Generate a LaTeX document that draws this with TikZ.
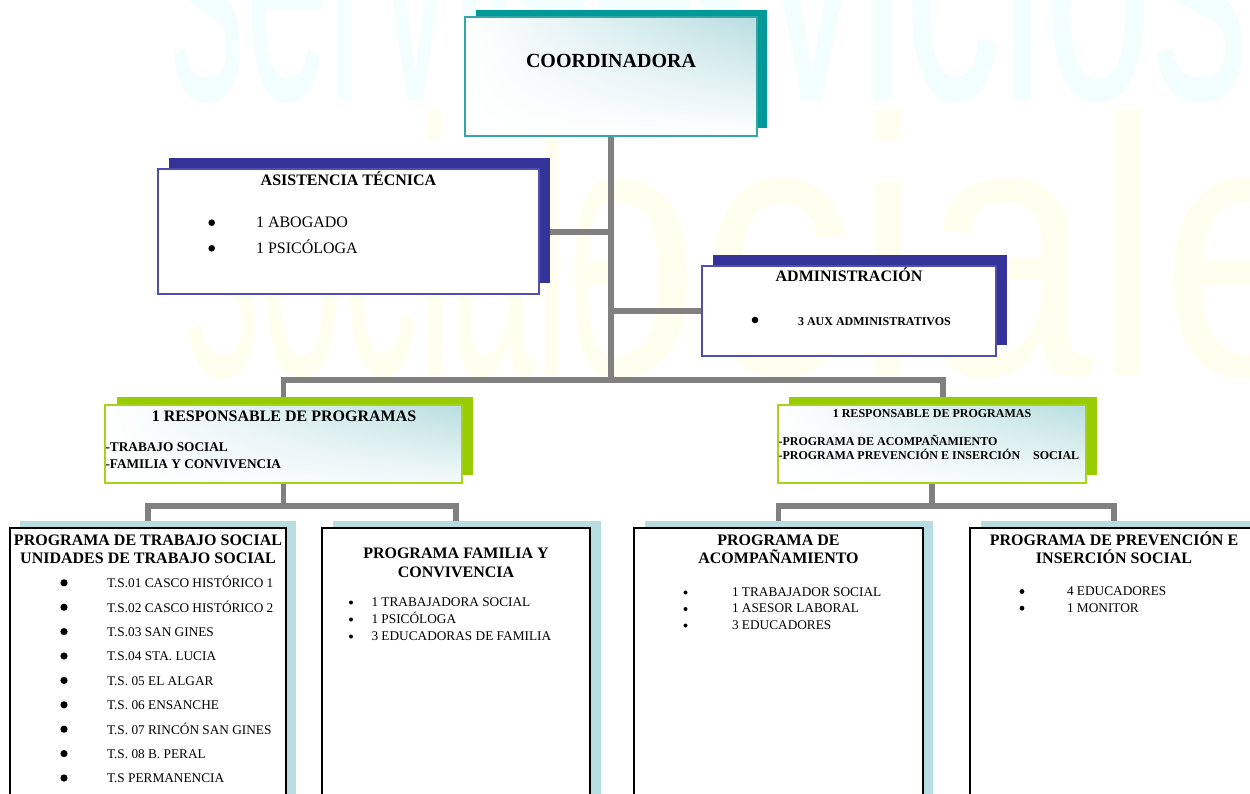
\documentclass[tikz,border=0pt]{standalone}
\usepackage{fontspec}
\setmainfont{Liberation Serif}
\newfontfamily\wmfont{Liberation Sans}
\usetikzlibrary{shadings}

\definecolor{connGray}{HTML}{808080}
\definecolor{tealShadow}{HTML}{009999}
\definecolor{tealEdge}{HTML}{33A6A6}
\definecolor{tealHi}{HTML}{B8DEE0}
\definecolor{navyShadow}{HTML}{333399}
\definecolor{navyEdge}{HTML}{5050AA}
\definecolor{limeShadow}{HTML}{99CC00}
\definecolor{limeEdge}{HTML}{A6D21A}
\definecolor{paleBlue}{HTML}{B7DDE0}
\definecolor{wmCyan}{HTML}{F3FEFE}
\definecolor{wmYellow}{HTML}{FFFFF0}

\pgfdeclarelayer{backdrop}
\pgfdeclarelayer{lines}
\pgfsetlayers{backdrop,lines,main}

\begin{document}
\begin{tikzpicture}[x=1pt,y=-1pt,
  conn/.style={draw=connGray, line width=5.5pt},
  boxbase/.style={rectangle, inner sep=0pt, outer sep=0pt, anchor=north west},
  shadowbox/.style={boxbase, fill=#1},
  tealfront/.style={boxbase, draw=tealEdge, line width=2pt, shade,
    upper left=white, lower left=white, lower right=white, upper right=tealHi},
  navyfront/.style={boxbase, draw=navyEdge, line width=2pt, fill=white},
  limefront/.style={boxbase, draw=limeEdge, line width=2.5pt, shade,
    upper left=white, lower left=white, lower right=white!85!tealHi, upper right=tealHi},
  progfront/.style={boxbase, draw=black, line width=2.5pt, fill=white},
  txt/.style={inner sep=0pt, outer sep=0pt},
  wm/.style={inner sep=0pt, outer sep=0pt, anchor=base west, font=\wmfont\fontsize{366}{366}\selectfont},
  dot/.style={fill=black}
]
\useasboundingbox (0,0) rectangle (1250,794);

% faint background lettering
\begin{pgfonlayer}{backdrop}
  \fill[white] (0,0) rectangle (1250,794);
  \begin{scope}
    \clip (0,0) rectangle (1250,794);
    \node[wm, text=wmCyan] (wm1) at (170,100) {\scalebox{0.41}[1]{servicios}};
    \node[wm, text=wmCyan] (wm2) at (495,100) {\scalebox{0.53}[1]{servicios}};
  \end{scope}
  \begin{scope}
    \clip (0,0) rectangle (611,794);
    \node[wm, text=wmYellow] (wm3) at (185,375) {\scalebox{0.41}[1]{sociales}};
  \end{scope}
  \begin{scope}
    \clip (611,0) rectangle (1250,794);
    \node[wm, text=wmYellow] (wm4) at (376,375) {\scalebox{0.84}[1]{sociales}};
  \end{scope}
\end{pgfonlayer}

% shadows
\node[shadowbox=tealShadow, minimum width=291pt, minimum height=118pt] (coord-sh) at (476,10) {};
\node[shadowbox=navyShadow, minimum width=381pt, minimum height=125pt] (asist-sh) at (169,158) {};
\node[shadowbox=navyShadow, minimum width=294pt, minimum height=90pt] (admin-sh) at (713,255) {};
\node[shadowbox=limeShadow, minimum width=356pt, minimum height=78pt] (respL-sh) at (117,397) {};
\node[shadowbox=limeShadow, minimum width=308pt, minimum height=78pt] (respR-sh) at (789,397) {};
\node[shadowbox=paleBlue, minimum width=276pt, minimum height=300pt] (b1-sh) at (20,521) {};
\node[shadowbox=paleBlue, minimum width=268pt, minimum height=300pt] (b2-sh) at (333,521) {};
\node[shadowbox=paleBlue, minimum width=288pt, minimum height=300pt] (b3-sh) at (645,521) {};
\node[shadowbox=paleBlue, minimum width=290pt, minimum height=300pt] (b4-sh) at (981,521) {};

% front boxes
\node[tealfront, minimum width=292pt, minimum height=119pt] (coord) at (465,17) {};
\node[navyfront, minimum width=381pt, minimum height=125pt] (asist) at (158,169) {};
\node[navyfront, minimum width=294pt, minimum height=90pt] (admin) at (702,266) {};
\node[limefront, minimum width=357pt, minimum height=78pt] (respL) at (105,405) {};
\node[limefront, minimum width=308pt, minimum height=78pt] (respR) at (778,405) {};
\node[progfront, minimum width=276pt, minimum height=300pt] (b1) at (10,528) {};
\node[progfront, minimum width=268pt, minimum height=300pt] (b2) at (322,528) {};
\node[progfront, minimum width=289pt, minimum height=300pt] (b3) at (634,528) {};
\node[progfront, minimum width=288pt, minimum height=300pt] (b4) at (970,528) {};

% grey tree lines, kept beneath the boxes
\coordinate (hub) at (611,380);
\coordinate (asJ) at (611,232);
\coordinate (adJ) at (611,311);
\coordinate (hubL) at (283.5,506);
\coordinate (hubR) at (932,506);
\begin{pgfonlayer}{lines}
  \draw[conn] (coord.south) -- (hub);
  \draw[conn] (respL.north) |- (hub) -| (respR-sh.north);
  \draw[conn] (asJ) -- (asJ -| asist-sh.east);
  \draw[conn] (adJ) -- (adJ -| admin.west);
  \draw[conn] (respL.south) -- (hubL);
  \draw[conn] (b1.north) |- (hubL) -| (b2.north);
  \draw[conn] (respR.south) -- (hubR);
  \draw[conn] (b3.north) |- (hubR) -| (b4.north);
\end{pgfonlayer}

% texts
\node[txt, anchor=base] (t-coord) at (611,68) {\fontsize{20}{24}\selectfont\bfseries COORDINADORA};

\node[txt, anchor=base] (t-asist) at (348.5,186) {\fontsize{16}{19}\selectfont\bfseries ASISTENCIA TÉCNICA};
\node[txt, anchor=base west] (t-asist1) at (256,228) {\fontsize{16}{19}\selectfont 1 ABOGADO};
\node[txt, anchor=base west] (t-asist2) at (256,253.6) {\fontsize{16}{19}\selectfont 1 PSICÓLOGA};

\node[txt, anchor=base] (t-admin) at (849,282) {\fontsize{16}{19}\selectfont\bfseries ADMINISTRACIÓN};
\node[txt, anchor=base west] (t-admin1) at (798,326) {\fontsize{12}{14}\selectfont\bfseries 3 AUX ADMINISTRATIVOS};

\node[txt, anchor=base] (t-respL) at (284,421.3) {\fontsize{16}{19}\selectfont\bfseries 1 RESPONSABLE DE PROGRAMAS};
\node[txt, anchor=base west] (t-respL1) at (105.5,451.7) {\fontsize{13.3}{16}\selectfont\bfseries -TRABAJO SOCIAL};
\node[txt, anchor=base west] (t-respL2) at (105.5,468.4) {\fontsize{13.3}{16}\selectfont\bfseries -FAMILIA Y CONVIVENCIA};

\node[txt, anchor=base] (t-respR) at (932,417) {\fontsize{12}{14}\selectfont\bfseries 1 RESPONSABLE DE PROGRAMAS};
\node[txt, anchor=base west] (t-respR1) at (778.5,445) {\fontsize{12}{14}\selectfont\bfseries -PROGRAMA DE ACOMPAÑAMIENTO};
\node[txt, anchor=base west] (t-respR2) at (778.5,459) {\fontsize{12}{14}\selectfont\bfseries -PROGRAMA PREVENCIÓN E INSERCIÓN\hspace{10pt} SOCIAL};

% program boxes
\node[txt, anchor=base] (t-b1a) at (148,545.3) {\fontsize{16}{19}\selectfont\bfseries PROGRAMA DE TRABAJO SOCIAL};
\node[txt, anchor=base] (t-b1b) at (148,563) {\fontsize{16}{19}\selectfont\bfseries UNIDADES DE TRABAJO SOCIAL};
\foreach \lbl [count=\i from 0] in {T.S.01 CASCO HISTÓRICO 1, T.S.02 CASCO HISTÓRICO 2, T.S.03 SAN GINES, T.S.04 STA. LUCIA, T.S. 05 EL ALGAR, T.S. 06 ENSANCHE, T.S. 07 RINCÓN SAN GINES, T.S. 08 B. PERAL, T.S PERMANENCIA}{
  \node[txt, anchor=base west] (t-b1-\i) at (107,587.7+24.4*\i) {\fontsize{13.3}{16}\selectfont \lbl};
  \fill[dot] (64,582.8+24.4*\i) circle[radius=3.6pt];
}

\node[txt, anchor=base] (t-b2a) at (456,558.3) {\fontsize{16}{19}\selectfont\bfseries PROGRAMA FAMILIA Y};
\node[txt, anchor=base] (t-b2b) at (456,577.3) {\fontsize{16}{19}\selectfont\bfseries CONVIVENCIA};
\foreach \lbl [count=\i from 0] in {1 TRABAJADORA SOCIAL, 1 PSICÓLOGA, 3 EDUCADORAS DE FAMILIA}{
  \node[txt, anchor=base west] (t-b2-\i) at (371.5,606.4+17*\i) {\fontsize{13.3}{16}\selectfont \lbl};
  \fill[dot] (351,602.5+17*\i) circle[radius=2pt];
}

\node[txt, anchor=base] (t-b3a) at (778.5,545.3) {\fontsize{16}{19}\selectfont\bfseries PROGRAMA DE};
\node[txt, anchor=base] (t-b3b) at (778.5,563) {\fontsize{16}{19}\selectfont\bfseries ACOMPAÑAMIENTO};
\foreach \lbl [count=\i from 0] in {1 TRABAJADOR SOCIAL, 1 ASESOR LABORAL, 3 EDUCADORES}{
  \node[txt, anchor=base west] (t-b3-\i) at (732,596.4+16.5*\i) {\fontsize{13.3}{16}\selectfont \lbl};
  \fill[dot] (685.5,592.5+16.5*\i) circle[radius=2pt];
}

\node[txt, anchor=base] (t-b4a) at (1114,545.3) {\fontsize{16}{19}\selectfont\bfseries PROGRAMA DE PREVENCIÓN E};
\node[txt, anchor=base] (t-b4b) at (1114,563) {\fontsize{16}{19}\selectfont\bfseries INSERCIÓN SOCIAL};
\foreach \lbl [count=\i from 0] in {4 EDUCADORES, 1 MONITOR}{
  \node[txt, anchor=base west] (t-b4-\i) at (1067,595.4+16.7*\i) {\fontsize{13.3}{16}\selectfont \lbl};
  \fill[dot] (1022,591.5+16.7*\i) circle[radius=2.4pt];
}

% bullets of the upper boxes
\fill[dot] (211.7,222.7) circle[radius=3.3pt];
\fill[dot] (211.7,248.3) circle[radius=3.3pt];
\fill[dot] (755,320) circle[radius=3.3pt];
\end{tikzpicture}
\end{document}
